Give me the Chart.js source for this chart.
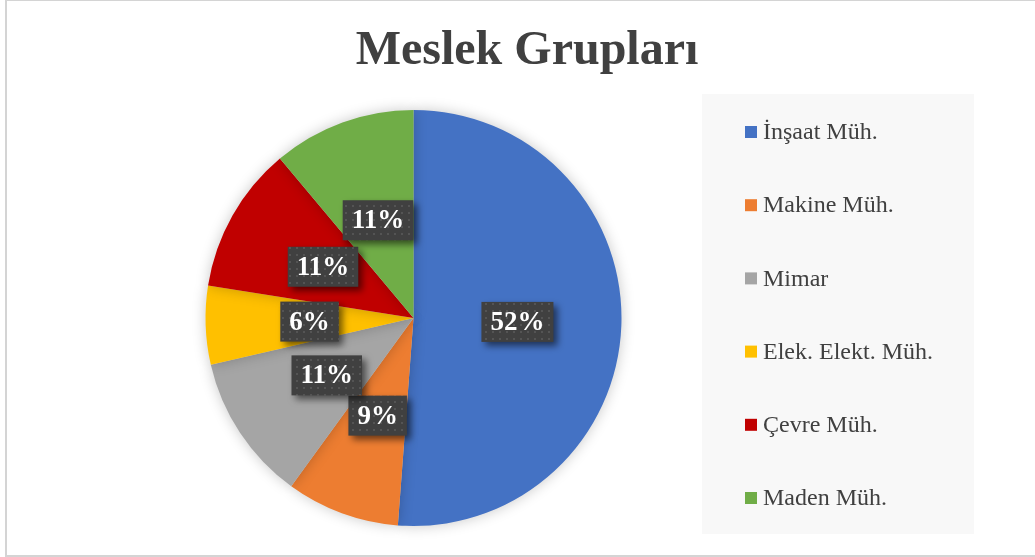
<!DOCTYPE html>
<html>
<head>
<meta charset="utf-8">
<script src="https://cdn.jsdelivr.net/npm/chart.js@4/dist/chart.umd.min.js"></script>
<style>
  html, body { margin: 0; padding: 0; background: #fff; overflow: hidden; }
  #frame {
    position: absolute; left: 5px; top: 0; width: 1045px; height: 557px;
    border: 2px solid #d4d4d4; border-top-width: 1px; box-sizing: border-box;
  }
  #wrap { position: absolute; left: 0; top: 0; width: 1035px; height: 557px; }
</style>
</head>
<body>
<div id="frame"></div>
<div id="wrap"><canvas id="chart-canvas" width="1035" height="557"></canvas></div>
<script>
const chartTitle = 'Meslek Grupları';
const categories = ['İnşaat Müh.', 'Makine Müh.', 'Mimar', 'Elek. Elekt. Müh.', 'Çevre Müh.', 'Maden Müh.'];
// slice sizes
const shares = [51.2, 8.8, 11.4, 6.1, 11.4, 11.1];
// percentages as printed on the slices
const percentLabels = ['52%', '9%', '11%', '6%', '11%', '11%'];
const sliceColors = ['#4472C4', '#ED7D31', '#A5A5A5', '#FFC000', '#C00000', '#70AD47'];

// dark dotted fill for the value boxes
function makeDotPattern(ctx){
    let c = document.createElement('canvas');
    c.width = 7; c.height = 7;
    let p = c.getContext('2d');
    p.fillStyle = '#404040';
    p.fillRect(0, 0, 7, 7);
    p.fillStyle = '#545454';
    p.fillRect(2, 2, 2, 2);
    return ctx.createPattern(c, 'repeat');
}

const pieShadow = {
    id: 'pieShadow',
    beforeDatasetsDraw(chart){
        let ctx = chart.ctx;
        ctx.save();
        ctx.shadowColor = 'rgba(0,0,0,0.22)';
        ctx.shadowBlur = 14;
    },
    afterDatasetsDraw(chart){
        chart.ctx.restore();
    }
};

const titleText = {
    id: 'titleText',
    afterDraw(chart){
        let ctx = chart.ctx;
        ctx.save();
        ctx.font = 'bold 48px "Liberation Serif", "Times New Roman", serif';
        ctx.fillStyle = '#404040';
        ctx.textAlign = 'center';
        ctx.textBaseline = 'alphabetic';
        ctx.fillText(chartTitle, 527, 64);
        ctx.restore();
    }
};

const valueBoxes = {
    id: 'valueBoxes',
    afterDatasetsDraw(chart){
        let ctx = chart.ctx;
        let meta = chart.getDatasetMeta(0);
        let fill = makeDotPattern(ctx);
        ctx.save();
        ctx.font = 'bold 27px "Liberation Serif", "Times New Roman", serif';
        meta.data.forEach((arc, i) => {
            let pos = arc.getCenterPoint();
            let txt = percentLabels[i];
            let w = ctx.measureText(txt).width + 18;
            let h = 40;
            let x = pos.x - w / 2, y = pos.y - h / 2;
            ctx.save();
            ctx.shadowColor = 'rgba(0,0,0,0.55)';
            ctx.shadowBlur = 7;
            ctx.shadowOffsetX = 4;
            ctx.shadowOffsetY = 4;
            ctx.fillStyle = fill;
            ctx.fillRect(x, y, w, h);
            ctx.restore();
            ctx.fillStyle = '#ffffff';
            ctx.textAlign = 'center';
            ctx.textBaseline = 'middle';
            ctx.fillText(txt, pos.x, pos.y + 1);
        });
        ctx.restore();
    }
};

const sideLegend = {
    id: 'sideLegend',
    afterDraw(chart){
        let ctx = chart.ctx;
        ctx.save();
        ctx.fillStyle = '#f8f8f8';
        ctx.fillRect(702, 94, 272, 440);
        ctx.font = '24px "Liberation Serif", "Times New Roman", serif';
        ctx.textBaseline = 'middle';
        ctx.textAlign = 'left';
        chart.data.labels.forEach((lbl, i) => {
            let cy = 132 + i * 73.2;
            ctx.fillStyle = chart.data.datasets[0].backgroundColor[i];
            ctx.fillRect(745, cy - 6, 12, 12);
            ctx.fillStyle = '#404040';
            ctx.fillText(lbl, 763, cy + 1);
        });
        ctx.restore();
    }
};

let ctx = document.getElementById('chart-canvas').getContext('2d');
let chart = new Chart(ctx, {
    type: 'pie',
    data: {
        labels: categories,
        datasets: [{
            data: shares,
            backgroundColor: sliceColors,
            borderWidth: 0
        }]
    },
    options: {
        responsive: false,
        animation: false,
        layout: { padding: { left: 205, right: 413, top: 110, bottom: 31 } },
        plugins: {
            legend: { display: false },
            title: { display: false },
            tooltip: { enabled: false }
        }
    },
    plugins: [pieShadow, valueBoxes, sideLegend, titleText]
});
</script>
</body>
</html>
